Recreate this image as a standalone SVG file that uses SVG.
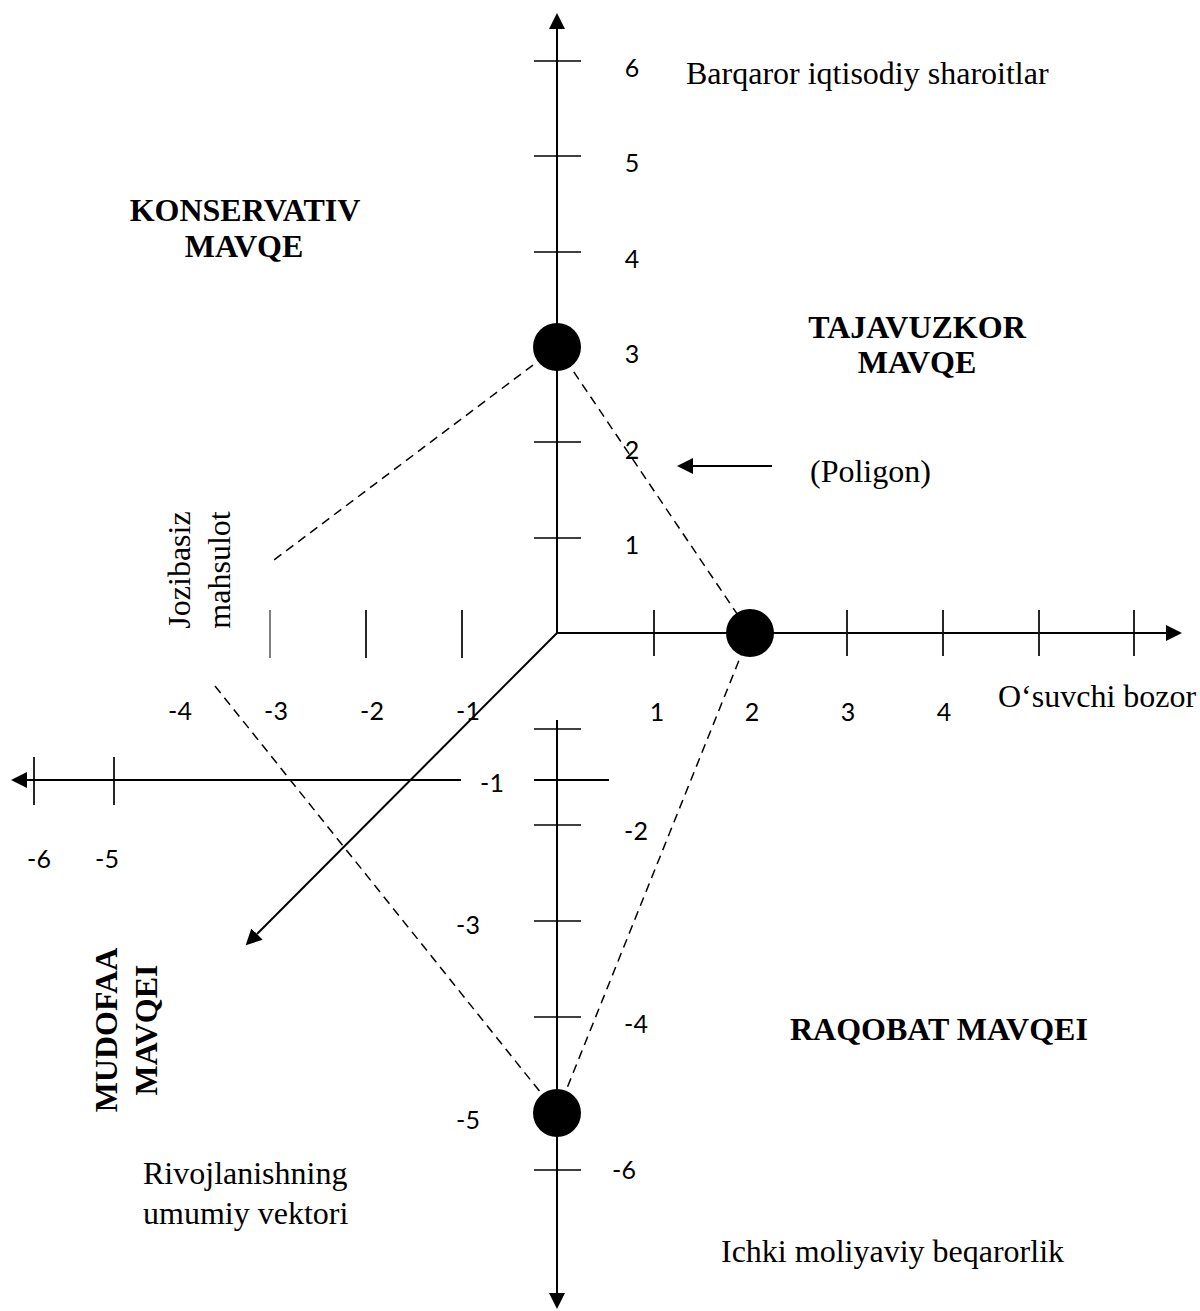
<svg xmlns="http://www.w3.org/2000/svg" width="1200" height="1311" viewBox="0 0 1200 1311">
<style>
.ax{stroke:#000;stroke-width:2;fill:none}
.tk{stroke:#000;stroke-width:1.7;fill:none}
.tk1{stroke:#000;stroke-width:1;fill:none}
.ds{stroke:#000;stroke-width:1.5;fill:none;stroke-dasharray:9,6}
.num{font-family:Lato,"Liberation Sans",sans-serif;font-size:25px;fill:#000;text-anchor:middle}
.sr{font-family:"Liberation Serif","Times New Roman",serif;font-size:32px;fill:#000}
.bd{font-family:"Liberation Serif","Times New Roman",serif;font-size:32px;font-weight:bold;fill:#000}
.dot{fill:#000}
</style>
<defs>
<marker id="ah2" viewBox="0 0 16 16" refX="0" refY="8" markerWidth="16" markerHeight="16" markerUnits="userSpaceOnUse" orient="auto">
<path d="M0,0 L16,8 L0,16 Z" fill="#000"/>
</marker>
</defs>
<rect width="1200" height="1311" fill="#fff"/>

<g id="connectors">
<line class="ax" x1="557" y1="633" x2="557" y2="29" marker-end="url(#ah2)"/>
<line class="ax" x1="557" y1="633" x2="1166" y2="633" marker-end="url(#ah2)"/>
<line class="ax" x1="557" y1="720" x2="557" y2="1293" marker-end="url(#ah2)"/>
<line class="ax" x1="461" y1="780" x2="27" y2="780" marker-end="url(#ah2)"/>
<line class="ax" x1="557" y1="633" x2="257" y2="934" marker-end="url(#ah2)"/>
<line class="ax" x1="772" y1="466" x2="693" y2="466" marker-end="url(#ah2)"/>
<line class="tk" x1="534" y1="61" x2="581" y2="61"/>
<line class="tk" x1="534" y1="156" x2="581" y2="156"/>
<line class="tk" x1="534" y1="252" x2="581" y2="252"/>
<line class="tk" x1="534" y1="442" x2="581" y2="442"/>
<line class="tk" x1="534" y1="538" x2="581" y2="538"/>
<line class="tk" x1="654" y1="610" x2="654" y2="656"/>
<line class="tk" x1="847" y1="610" x2="847" y2="656"/>
<line class="tk" x1="943" y1="610" x2="943" y2="656"/>
<line class="tk" x1="1039" y1="610" x2="1039" y2="656"/>
<line class="tk" x1="1134" y1="610" x2="1134" y2="656"/>
<line class="tk1" x1="270" y1="610" x2="270" y2="658"/>
<line class="tk" x1="366" y1="610" x2="366" y2="658"/>
<line class="tk" x1="462" y1="610" x2="462" y2="658"/>
<line class="tk" x1="34" y1="757" x2="34" y2="805"/>
<line class="tk" x1="114" y1="757" x2="114" y2="805"/>
<line class="tk" x1="534" y1="729" x2="581" y2="729"/>
<line class="ax" x1="534" y1="780" x2="609" y2="780"/>
<line class="tk" x1="534" y1="825" x2="581" y2="825"/>
<line class="tk" x1="534" y1="921" x2="581" y2="921"/>
<line class="tk" x1="534" y1="1017" x2="581" y2="1017"/>
<line class="tk" x1="534" y1="1170" x2="581" y2="1170"/>
<line class="ds" x1="557" y1="347" x2="750" y2="633"/>
<line class="ds" x1="557" y1="347" x2="270" y2="563"/>
<line class="ds" x1="750" y1="633" x2="557" y2="1113"/>
<line class="ds" x1="215" y1="686" x2="557" y2="1113"/>
</g>

<g id="node-p3"><circle class="dot" cx="557" cy="347" r="24"/></g>
<g id="node-p2"><circle class="dot" cx="750" cy="633" r="24"/></g>
<g id="node-p5"><circle class="dot" cx="557" cy="1113" r="24"/></g>

<g id="axis-labels">
<text class="num" x="632" y="77">6</text>
<text class="num" x="632" y="172">5</text>
<text class="num" x="632" y="268">4</text>
<text class="num" x="632" y="363">3</text>
<text class="num" x="632" y="459">2</text>
<text class="num" x="632" y="554">1</text>
<text class="num" x="657" y="721">1</text>
<text class="num" x="752" y="721">2</text>
<text class="num" x="848" y="721">3</text>
<text class="num" x="944" y="721">4</text>
<text class="num" x="180" y="720">-4</text>
<text class="num" x="276" y="720">-3</text>
<text class="num" x="372" y="720">-2</text>
<text class="num" x="468" y="720">-1</text>
<text class="num" x="39" y="868">-6</text>
<text class="num" x="107" y="868">-5</text>
<text class="num" x="492" y="792">-1</text>
<text class="num" x="636" y="840">-2</text>
<text class="num" x="468" y="934">-3</text>
<text class="num" x="636" y="1033">-4</text>
<text class="num" x="468" y="1129">-5</text>
<text class="num" x="624" y="1179">-6</text>
</g>

<g id="label-barqaror"><text class="sr" x="686" y="84">Barqaror iqtisodiy sharoitlar</text></g>
<g id="label-konservativ">
<text class="bd" x="245" y="221" text-anchor="middle">KONSERVATIV</text>
<text class="bd" x="244" y="257" text-anchor="middle">MAVQE</text>
</g>
<g id="label-tajavuzkor">
<text class="bd" x="917" y="338" text-anchor="middle">TAJAVUZKOR</text>
<text class="bd" x="917" y="373" text-anchor="middle">MAVQE</text>
</g>
<g id="label-poligon"><text class="sr" x="810" y="482">(Poligon)</text></g>
<g id="label-jozibasiz">
<text class="sr" transform="translate(190,570) rotate(-90)" text-anchor="middle">Jozibasiz</text>
<text class="sr" transform="translate(230,570) rotate(-90)" text-anchor="middle">mahsulot</text>
</g>
<g id="label-osuvchi"><text class="sr" x="998" y="707">O‘suvchi bozor</text></g>
<g id="label-raqobat"><text class="bd" x="790" y="1040">RAQOBAT MAVQEI</text></g>
<g id="label-mudofaa">
<text class="bd" transform="translate(117,1030) rotate(-90)" text-anchor="middle">MUDOFAA</text>
<text class="bd" transform="translate(157,1030) rotate(-90)" text-anchor="middle">MAVQEI</text>
</g>
<g id="label-rivoj">
<text class="sr" x="143" y="1184">Rivojlanishning</text>
<text class="sr" x="143" y="1224">umumiy vektori</text>
</g>
<g id="label-ichki"><text class="sr" x="721" y="1262">Ichki moliyaviy beqarorlik</text></g>
</svg>
